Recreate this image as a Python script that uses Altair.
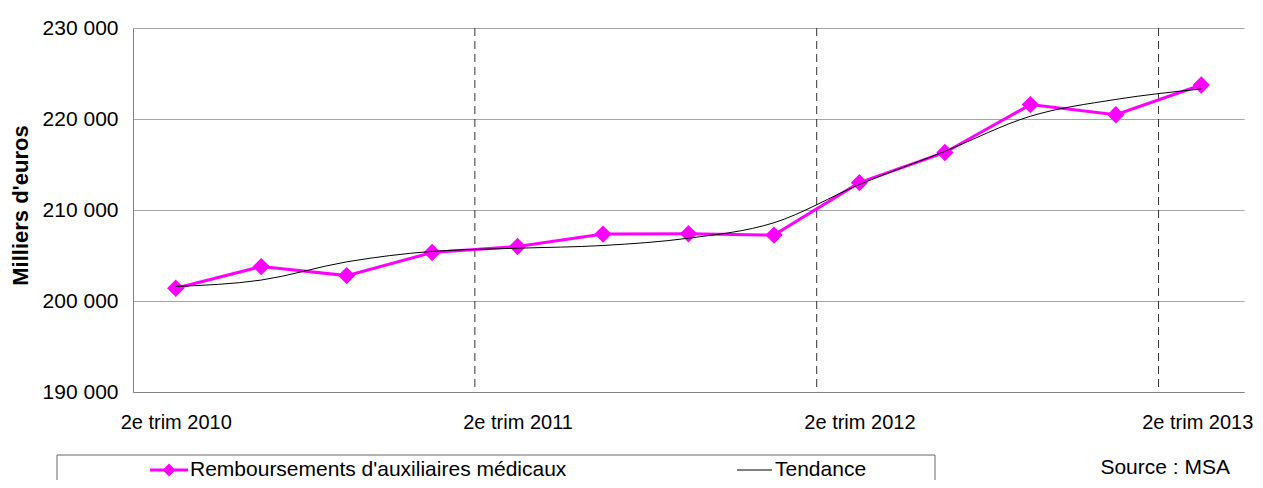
import json
import altair as alt
import pandas as pd

quarters = [
    "2e trim 2010", "3e trim 2010", "4e trim 2010", "1er trim 2011",
    "2e trim 2011", "3e trim 2011", "4e trim 2011", "1er trim 2012",
    "2e trim 2012", "3e trim 2012", "4e trim 2012", "1er trim 2013",
    "2e trim 2013",
]
remboursements = [201400, 203780, 202790, 205330, 205990, 207350, 207390,
                  207240, 213000, 216320, 221580, 220470, 223740]
tendance = [201600, 202300, 204300, 205450, 205800, 206100, 206900,
            208600, 212800, 216450, 220300, 222150, 223300]
y_ticks = [190000, 200000, 210000, 220000, 230000]
legend_labels = ["Remboursements d'auxiliaires médicaux", "Tendance"]
source_text = "Source : MSA"

FONT = "Liberation Sans"
MAGENTA = "#FF00FF"
FS = 21

labelled = [i for i, q in enumerate(quarters) if q.startswith("2e")]
boundaries = [i - 0.5 for i in labelled if i > 0]

df = pd.DataFrame({"i": list(range(len(quarters))), "q": quarters,
                   "v": remboursements, "t": tendance})
df_b = pd.DataFrame({"i": boundaries})

xscale = alt.Scale(domain=[-0.5, len(quarters) - 0.5], nice=False, zero=False)
yscale = alt.Scale(domain=[y_ticks[0], y_ticks[-1]], nice=False, zero=False)

x_axis = alt.Axis(
    values=labelled,
    labelExpr=f"{json.dumps(quarters)}[datum.value]",
    ticks=False, grid=False, domainColor="#808080", labelFont=FONT,
    labelFontSize=20, labelColor="black", labelPadding=20, labelFlush=False,
    labelOverlap=False, title=None,
    labelOffset={"condition": {"test": f"datum.value == {labelled[-1]}",
                               "value": -4}, "value": 0},
)
y_axis = alt.Axis(
    values=y_ticks,
    labelExpr="replace(format(datum.value, ','), ',', ' ')",
    ticks=False, grid=True, gridColor="#a6a6a6", domainColor="#808080",
    labelFont=FONT, labelFontSize=FS, labelColor="black", labelPadding=15,
    title="Milliers d'euros", titleFont=FONT, titleFontSize=22,
    titleFontWeight="bold", titleColor="black", titleX=-106, titleY=177,
    titleBaseline="alphabetic", titleAngle=-90,
)

X = alt.X("i:Q", scale=xscale, axis=x_axis, title=None)

base = alt.Chart(df)

main_line = base.mark_line(color=MAGENTA, strokeWidth=3).encode(
    x=X, y=alt.Y("v:Q", scale=yscale, axis=y_axis, title="Milliers d'euros"),
)
main_pts = base.mark_point(shape="diamond", filled=True, size=300,
                           color=MAGENTA, opacity=1).encode(
    x=X, y=alt.Y("v:Q", scale=yscale, axis=y_axis, title="Milliers d'euros"),
)
trend_line = base.mark_line(color="black", strokeWidth=1,
                            interpolate="monotone").encode(
    x=X, y=alt.Y("t:Q", scale=yscale, axis=y_axis, title="Milliers d'euros"),
)
dashes = alt.Chart(df_b).mark_rule(color="#333333", strokeWidth=1,
                                   strokeDash=[8, 5]).encode(x=X)

# custom legend
one = pd.DataFrame({"a": [0]})
LY = 442
leg_box = alt.Chart(one).mark_rect(fillOpacity=0, stroke="#666666",
                                   strokeWidth=1).encode(
    x=alt.value(-76), x2=alt.value(802), y=alt.value(427), y2=alt.value(480))
leg_rule1 = alt.Chart(one).mark_rule(color=MAGENTA, strokeWidth=3).encode(
    x=alt.value(17), x2=alt.value(55), y=alt.value(LY))
leg_pt1 = alt.Chart(one).mark_point(shape="diamond", filled=True, size=170,
                                    color=MAGENTA, opacity=1).encode(
    x=alt.value(36), y=alt.value(LY))
leg_rule2 = alt.Chart(one).mark_rule(color="black", strokeWidth=1).encode(
    x=alt.value(604), x2=alt.value(639), y=alt.value(LY))
leg_df = pd.DataFrame({"label": legend_labels})
leg_t1 = alt.Chart(leg_df.iloc[[0]]).mark_text(
    align="left", baseline="middle", font=FONT, fontSize=FS, color="black"
).encode(x=alt.value(57), y=alt.value(LY), text="label:N")
leg_t2 = alt.Chart(leg_df.iloc[[1]]).mark_text(
    align="left", baseline="middle", font=FONT, fontSize=FS, color="black"
).encode(x=alt.value(642), y=alt.value(LY), text="label:N")
src = alt.Chart(pd.DataFrame({"s": [source_text]})).mark_text(
    align="right", baseline="middle", font=FONT, fontSize=FS, color="black"
).encode(x=alt.value(1097), y=alt.value(440), text="s:N")

chart = alt.layer(
    dashes, main_line, main_pts, trend_line,
    leg_box, leg_rule1, leg_pt1, leg_rule2, leg_t1, leg_t2, src,
).properties(
    width=1111, height=364,
    autosize=alt.AutoSizeParams(type="none"),
    padding={"left": 125, "top": 20, "right": 11, "bottom": 88},
    background="white",
).configure_view(stroke=None)

chart.save("out.html", embed_options={"renderer": "svg", "actions": False})
